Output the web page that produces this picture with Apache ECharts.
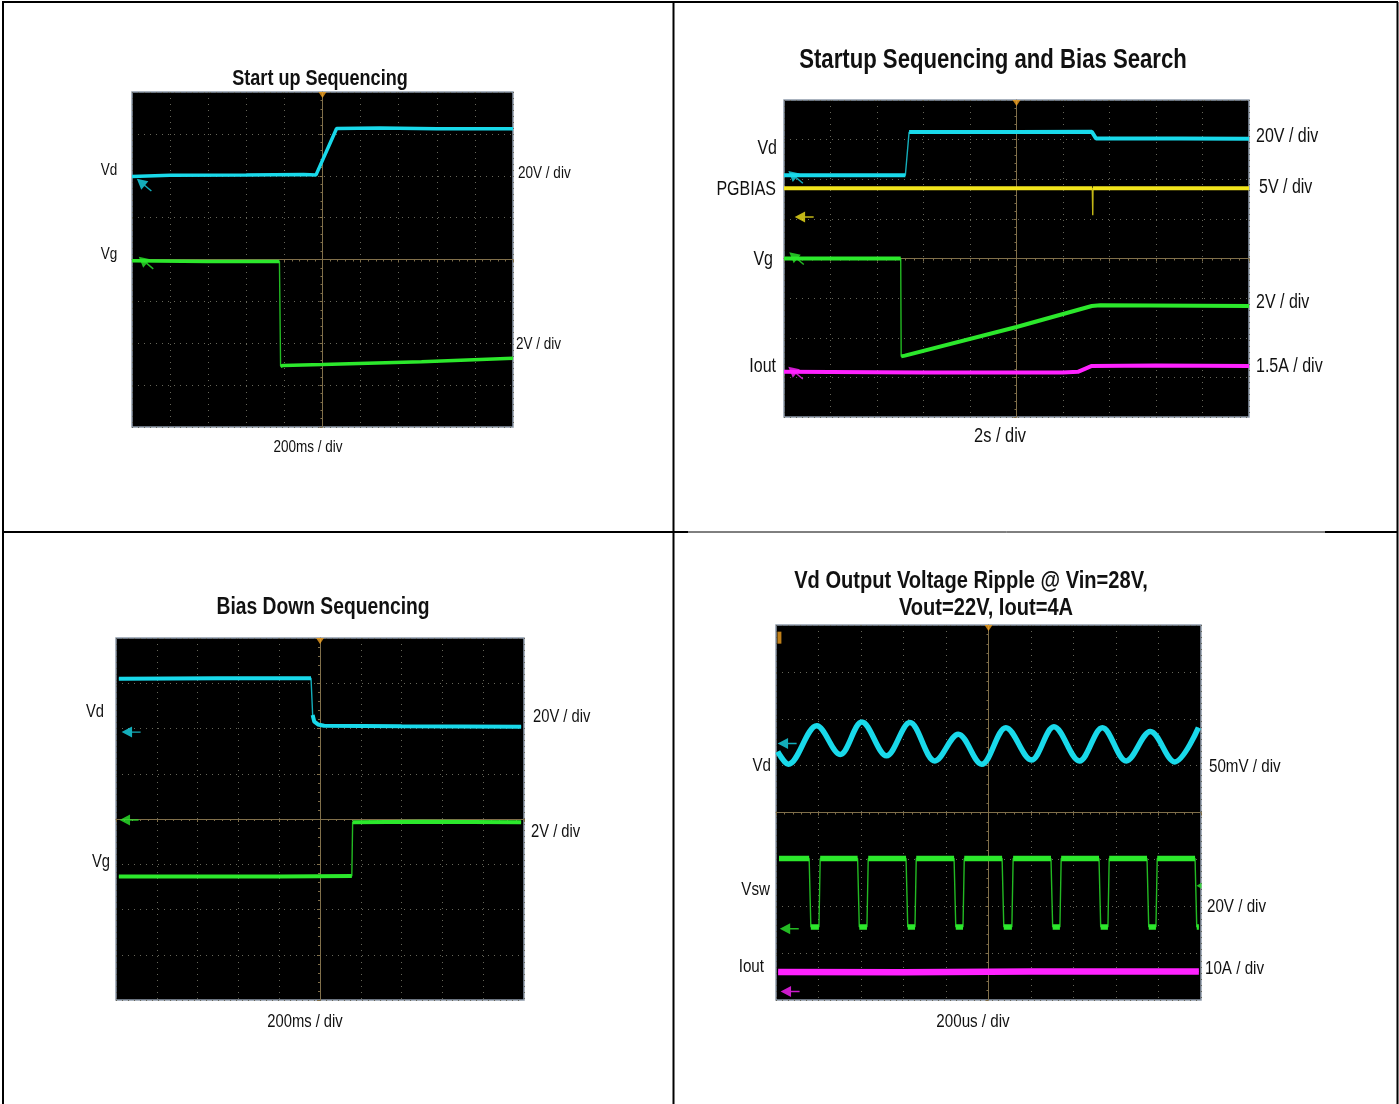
<!DOCTYPE html>
<html style="height: 100%">
<head>
  <meta charset="utf-8">
  <script type="text/javascript" src="https://cdn.jsdelivr.net/npm/echarts@6/dist/echarts.min.js"></script>
</head>
<body style="height: 100%; margin: 0; background: #fff">
  <div id="container" style="width: 1399px; height: 1104px"></div>
  <script type="text/javascript">
    // every trace is in scope divisions: x -5..5 (10 div), y -4..4 (8 div)

    // panel 1 - start up sequencing, 200ms/div
    var p1Vd = [[-5, 1.98], [-4, 2.01], [-2, 2.02], [-0.5, 2.03], [-0.17, 2.02], [0.37, 3.13], [1.5, 3.14], [3, 3.12], [5, 3.12]];
    var p1Vg = [[-5, -0.03], [-3, -0.05], [-1.13, -0.05], [-1.10, -2.55], [-1.03, -2.53], [0, -2.51], [2.6, -2.44], [5, -2.36]];
    var p1Refs = [[-4.84, 1.90], [-4.79, 0.04]];

    // panel 2 - startup sequencing and bias search, 2s/div
    var p2Vd = [[-5, 2.10], [-2.39, 2.10], [-2.31, 3.19], [0, 3.19], [1.62, 3.20], [1.71, 3.03], [3.5, 3.03], [5, 3.02]];
    var p2Pg = [[-5, 1.77], [0, 1.77], [1.63, 1.77], [1.64, 1.09], [1.645, 1.77], [5, 1.77]];
    var p2Vg = [[-5, 0.0], [-2.49, 0.0], [-2.48, -2.47], [-2.4, -2.45], [0, -1.73], [1.62, -1.20], [1.8, -1.18], [5, -1.20]];
    var p2Io = [[-5, -2.86], [-2, -2.88], [1.0, -2.88], [1.32, -2.86], [1.62, -2.71], [3, -2.70], [5, -2.71]];
    var p2Refs = [[-4.88, 2.18], [-4.76, 1.05], [-4.86, 0.13], [-4.88, -2.76]];

    // panel 3 - bias down sequencing, 200ms/div
    var p3Vd = [[-4.93, 3.10], [-2.5, 3.11], [-0.22, 3.11], [-0.18, 2.30], [-0.14, 2.15], [-0.05, 2.09], [0.1, 2.06], [2, 2.05], [4.93, 2.04]];
    var p3Vg = [[-4.93, -1.27], [-1, -1.27], [0.78, -1.26], [0.80, -0.07], [2.5, -0.06], [4.93, -0.07]];
    var p3Refs = [[-4.85, 1.92], [-4.90, -0.02]];

    // panel 4 - output ripple, 200us/div (Vd peaks and troughs)
    var p4Vd = [[-4.96, 1.30], [-4.71, 1.03], [-4.04, 1.85], [-3.49, 1.24], [-2.98, 1.93], [-2.40, 1.21], [-1.85, 1.92],
                [-1.26, 1.10], [-0.71, 1.67], [-0.16, 1.03], [0.41, 1.81], [1.01, 1.12], [1.54, 1.83], [2.14, 1.10],
                [2.68, 1.81], [3.24, 1.10], [3.81, 1.73], [4.38, 1.08], [4.94, 1.81]];
    var vswFall = [-4.22, -3.08, -1.94, -0.81, 0.32, 1.47, 2.60, 3.73, 4.86];
    var vswRise = [-3.99, -2.86, -1.73, -0.60, 0.55, 1.68, 2.81, 3.94, 4.95];
    var vswLevels = [-0.98, -2.44];
    var p4Io = [[-4.95, -3.40], [-2, -3.41], [1, -3.39], [4.95, -3.39]];
    var p4Refs = [[-4.95, 1.47], [-4.90, -2.48], [-4.88, -3.82]];

    var titles = ['Start up Sequencing', 'Startup Sequencing and Bias Search', 'Bias Down Sequencing',
                  'Vd Output Voltage Ripple @ Vin=28V,', 'Vout=22V, Iout=4A'];
    var timeBases = ['200ms / div', '2s / div', '200ms / div', '200us / div'];
    var p1Names = ['Vd', 'Vg'], p1Scales = ['20V / div', '2V / div'];
    var p2Names = ['Vd', 'PGBIAS', 'Vg', 'Iout'], p2Scales = ['20V / div', '5V / div', '2V / div', '1.5A / div'];
    var p3Names = ['Vd', 'Vg'], p3Scales = ['20V / div', '2V / div'];
    var p4Names = ['Vd', 'Vsw', 'Iout'], p4Scales = ['50mV / div', '20V / div', '10A / div'];

    var CYAN = '#19d9ea', GREEN = '#2ce82c', YELLOW = '#f2e41c', MAGENTA = '#ff22ff', ORANGE = '#f0a020';

    // square wave from the edge readings
    var p4Vsw = [[-4.93, vswLevels[0]]];
    for (var i = 0; i < vswFall.length; i++) {
      p4Vsw.push([vswFall[i], vswLevels[0]]);
      p4Vsw.push([vswFall[i] + 0.04, vswLevels[1]]);
      p4Vsw.push([vswRise[i], vswLevels[1]]);
      if (i < vswFall.length - 1) p4Vsw.push([vswRise[i] + 0.03, vswLevels[0]]);
    }

    var dom = document.getElementById('container');
    var myChart = echarts.init(dom);

    var grids = [
      { left: 132, top: 92, width: 381, height: 335 },
      { left: 784, top: 100, width: 465, height: 317 },
      { left: 116, top: 638, width: 408, height: 362 },
      { left: 776, top: 625, width: 425, height: 375 }
    ];
    grids.forEach(function (g) {
      g.show = true;
      g.backgroundColor = '#000';
      g.borderColor = '#8e9aab';
      g.borderWidth = 1.5;
    });

    var tan = '#806f4a';
    var xAxes = [], yAxes = [];
    for (var k = 0; k < 4; k++) {
      xAxes.push({
        gridIndex: k, type: 'value', min: -5, max: 5, interval: 1,
        axisLabel: { show: false },
        axisLine: { onZero: true, lineStyle: { color: tan, width: 1 } },
        axisTick: { length: 3, lineStyle: { color: tan } },
        minorTick: { show: true, splitNumber: 5, length: 2, lineStyle: { color: tan } },
        splitLine: { show: true, lineStyle: { color: '#66665a', width: 1, type: [1, 5] } }
      });
      yAxes.push({
        gridIndex: k, type: 'value', min: -4, max: 4, interval: 1,
        axisLabel: { show: false },
        axisLine: { onZero: true, lineStyle: { color: tan, width: 1 } },
        axisTick: { length: 3, lineStyle: { color: tan } },
        minorTick: { show: true, splitNumber: 5, length: 2, lineStyle: { color: tan } },
        splitLine: { show: true, lineStyle: { color: '#66665a', width: 1, type: [1, 5] } }
      });
    }

    // break the thick band where the trace is a fast edge
    function levelParts(pts) {
      var out = [pts[0]];
      for (var i = 1; i < pts.length; i++) {
        var dx = pts[i][0] - pts[i - 1][0], dy = pts[i][1] - pts[i - 1][1];
        if (Math.abs(dy) > 8 * Math.abs(dx)) out.push([pts[i][0], null]);
        out.push(pts[i]);
      }
      return out;
    }

    var series = [];
    function trace(g, pts, color, width, smooth) {
      series.push({
        type: 'line', xAxisIndex: g, yAxisIndex: g, data: pts, symbol: 'none', smooth: smooth || false,
        lineStyle: { color: color, width: 1.4, opacity: 0.8 }, silent: true, animation: false
      });
      series.push({
        type: 'line', xAxisIndex: g, yAxisIndex: g, data: levelParts(pts), symbol: 'none', smooth: smooth || false,
        connectNulls: false, lineStyle: { color: color, width: width }, silent: true, animation: false
      });
    }

    trace(0, p1Vd, CYAN, 3.5);
    trace(0, p1Vg, GREEN, 3.5);
    trace(1, p2Vd, CYAN, 4);
    trace(1, p2Pg, YELLOW, 4);
    trace(1, p2Vg, GREEN, 4);
    trace(1, p2Io, MAGENTA, 4);
    trace(2, p3Vd, CYAN, 4);
    trace(2, p3Vg, GREEN, 4);
    trace(3, p4Vd, CYAN, 5.5, 0.35);
    trace(3, p4Vsw, GREEN, 5.5);
    trace(3, p4Io, MAGENTA, 6.5);

    // channel reference arrows, trigger marks
    var arrowPath = 'path://M0,6 L11,0 L11,12 Z M11,5.2 L20,5.2 L20,6.8 L11,6.8 Z';
    function refs(g, pts, colors, diagonal) {
      var data = pts.map(function (p, j) {
        return {
          value: p, symbol: arrowPath, symbolSize: [19, 11],
          symbolRotate: diagonal ? -40 : 0,
          symbolOffset: diagonal ? [6, 5] : [9, 0],
          itemStyle: { color: colors[j] }
        };
      });
      data.push({ value: [0, 4], symbol: 'triangle', symbolRotate: 180, symbolSize: [8, 6], symbolOffset: [0, 3], itemStyle: { color: ORANGE } });
      series.push({ type: 'scatter', xAxisIndex: g, yAxisIndex: g, data: data, clip: false, silent: true, animation: false, z: 5 });
    }
    refs(0, p1Refs, [CYAN, GREEN], true);
    refs(1, p2Refs, [CYAN, YELLOW, GREEN, MAGENTA], true);
    series[series.length - 1].data[1].symbolRotate = 0;
    series[series.length - 1].data[1].symbolOffset = [9, 0];
    refs(2, p3Refs, [CYAN, GREEN], false);
    refs(3, p4Refs, [CYAN, GREEN, MAGENTA], false);
    series[series.length - 1].data.push({ value: [-4.92, 3.73], symbol: 'rect', symbolSize: [4, 12], itemStyle: { color: ORANGE } });
    series[series.length - 1].data.push({ value: [5, -1.56], symbol: 'triangle', symbolRotate: 90, symbolSize: [6, 5], symbolOffset: [-2, 0], itemStyle: { color: GREEN } });

    var FONT = '"Liberation Sans", Arial, sans-serif';
    function label(text, x, y, size, align, bold) {
      return {
        type: 'text', x: x, y: y, scaleX: 0.82,
        style: {
          text: text, font: (bold ? 'bold ' : '') + size + 'px ' + FONT, fill: '#111',
          align: align, textAlign: align, verticalAlign: 'middle', textVerticalAlign: 'middle'
        }
      };
    }
    function rule(x1, y1, x2, y2, w) {
      return { type: 'line', shape: { x1: x1, y1: y1, x2: x2, y2: y2 }, style: { stroke: '#000', lineWidth: w } };
    }

    var graphics = [
      rule(2, 2, 1398, 2, 2), rule(3, 2, 3, 1104, 2), rule(1397.5, 2, 1397.5, 1104, 2), rule(673.5, 2, 673.5, 1104, 2),
      rule(3, 532, 688, 532, 2), rule(688, 532, 1325, 532, 1), rule(1325, 532, 1398, 532, 2),

      label(titles[0], 320, 79, 22, 'center', true),
      label(p1Names[0], 109, 170, 16.5, 'center'),
      label(p1Names[1], 109, 254, 16.5, 'center'),
      label(p1Scales[0], 518, 173, 16.5, 'left'),
      label(p1Scales[1], 516, 344, 16.5, 'left'),
      label(timeBases[0], 308, 447, 16.5, 'center'),

      label(titles[1], 993, 61, 27, 'center', true),
      label(p2Names[0], 777, 149, 19.5, 'right'),
      label(p2Names[1], 776, 190, 19.5, 'right'),
      label(p2Names[2], 773, 260, 19.5, 'right'),
      label(p2Names[3], 776, 367, 19.5, 'right'),
      label(p2Scales[0], 1256, 137, 19.5, 'left'),
      label(p2Scales[1], 1259, 188, 19.5, 'left'),
      label(p2Scales[2], 1256, 303, 19.5, 'left'),
      label(p2Scales[3], 1256, 367, 19.5, 'left'),
      label(timeBases[1], 1000, 436, 20, 'center'),

      label(titles[2], 323, 608, 23.5, 'center', true),
      label(p3Names[0], 95, 712, 18, 'center'),
      label(p3Names[1], 101, 862, 18, 'center'),
      label(p3Scales[0], 533, 717, 18, 'left'),
      label(p3Scales[1], 531, 832, 18, 'left'),
      label(timeBases[2], 305, 1022, 18, 'center'),

      label(titles[3], 971, 581, 24.5, 'center', true),
      label(titles[4], 986, 608, 24.5, 'center', true),
      label(p4Names[0], 771, 766, 18.5, 'right'),
      label(p4Names[1], 770, 890, 18.5, 'right'),
      label(p4Names[2], 764, 967, 18.5, 'right'),
      label(p4Scales[0], 1209, 767, 18.5, 'left'),
      label(p4Scales[1], 1207, 907, 18.5, 'left'),
      label(p4Scales[2], 1205, 969, 18.5, 'left'),
      label(timeBases[3], 973, 1022, 18.5, 'center')
    ];

    var option = {
      backgroundColor: '#fff',
      animation: false,
      grid: grids,
      xAxis: xAxes,
      yAxis: yAxes,
      series: series,
      graphic: graphics
    };
    myChart.setOption(option);
  </script>
</body>
</html>
